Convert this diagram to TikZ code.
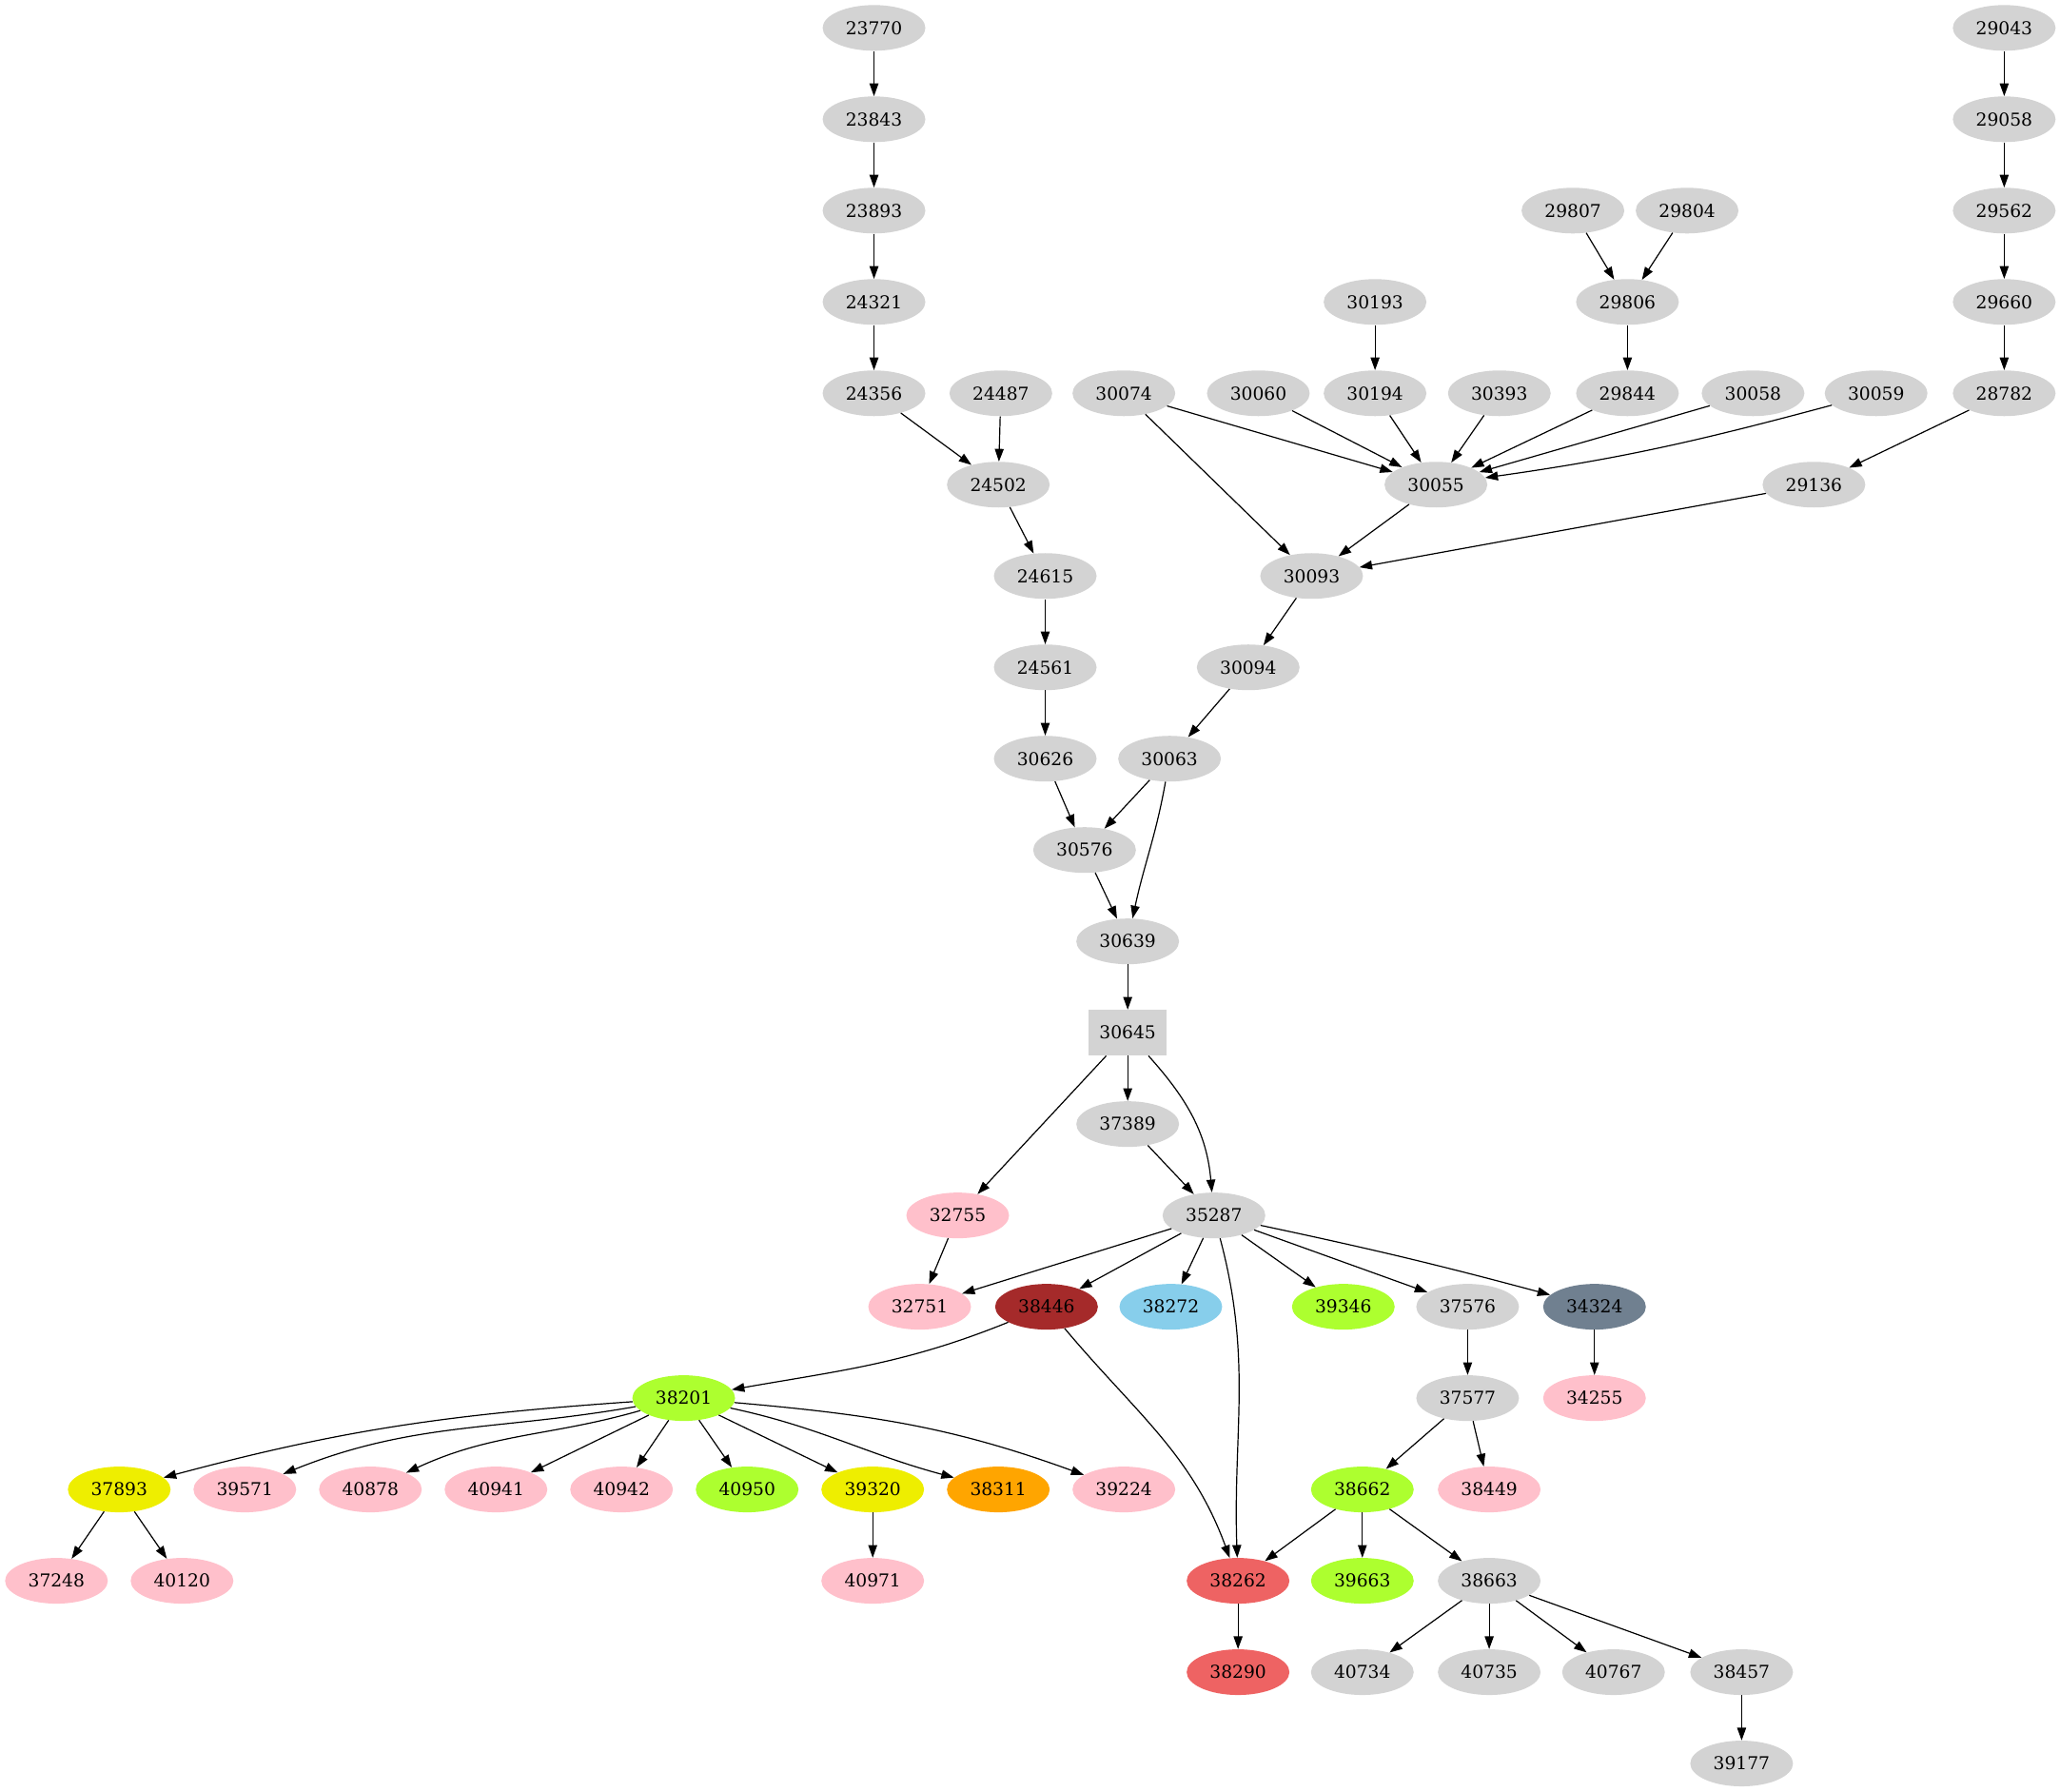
\documentclass[tikz,border=0pt]{standalone}
\usepackage{fontspec}
\setmainfont{DejaVu Serif}
\usetikzlibrary{shapes.geometric,arrows.meta}
\definecolor{lgray}{HTML}{D3D3D3}
\definecolor{pinkc}{HTML}{FFC0CB}
\definecolor{gyel}{HTML}{ADFF2F}
\definecolor{yeltwo}{HTML}{EEEE00}
\definecolor{orangec}{HTML}{FFA500}
\definecolor{brownc}{HTML}{A52A2A}
\definecolor{skyc}{HTML}{87CEEB}
\definecolor{slatec}{HTML}{708090}
\definecolor{indred}{HTML}{EE6363}
\tikzset{
  nd/.style={ellipse, minimum width=81pt, minimum height=36pt, inner sep=0pt, fill=lgray, font=\fontsize{14}{16}\selectfont},
  bx/.style={rectangle, minimum width=62pt, minimum height=36pt, inner sep=0pt, fill=lgray, font=\fontsize{14}{16}\selectfont},
  pk/.style={nd, fill=pinkc},
  gy/.style={nd, fill=gyel},
  yw/.style={nd, fill=yeltwo},
  ar/.style={-{Triangle[length=10pt,width=7pt]}, line width=0.9pt}
}
\begin{document}
\begin{tikzpicture}[x=1pt,y=1pt]
\useasboundingbox (0,0) rectangle (1624,-1412);
% row y = -(22+72k)
% k0
\node[nd] (n23770) at (689,-22) {23770};
\node[nd] (n29043) at (1580,-22) {29043};
% k1
\node[nd] (n23843) at (689,-94) {23843};
\node[nd] (n29058) at (1580,-94) {29058};
% k2
\node[nd] (n23893) at (689,-166) {23893};
\node[nd] (n29807) at (1240,-166) {29807};
\node[nd] (n29804) at (1330,-166) {29804};
\node[nd] (n29562) at (1580,-166) {29562};
% k3
\node[nd] (n24321) at (689,-238) {24321};
\node[nd] (n30193) at (1084,-238) {30193};
\node[nd] (n29806) at (1283,-238) {29806};
\node[nd] (n29660) at (1580,-238) {29660};
% k4
\node[nd] (n24356) at (689,-310) {24356};
\node[nd] (n24487) at (789,-310) {24487};
\node[nd] (n30074) at (886,-310) {30074};
\node[nd] (n30060) at (992,-310) {30060};
\node[nd] (n30194) at (1084,-310) {30194};
\node[nd] (n30393) at (1182,-310) {30393};
\node[nd] (n29844) at (1283,-310) {29844};
\node[nd] (n30058) at (1382,-310) {30058};
\node[nd] (n30059) at (1479,-310) {30059};
\node[nd] (n28782) at (1580,-310) {28782};
% k5
\node[nd] (n24502) at (787,-382) {24502};
\node[nd] (n30055) at (1132,-382) {30055};
\node[nd] (n29136) at (1430,-382) {29136};
% k6
\node[nd] (n24615) at (824,-454) {24615};
\node[nd] (n30093) at (1034,-454) {30093};
% k7
\node[nd] (n24561) at (824,-526) {24561};
\node[nd] (n30094) at (984,-526) {30094};
% k8
\node[nd] (n30626) at (824,-598) {30626};
\node[nd] (n30063) at (922,-598) {30063};
% k9
\node[nd] (n30576) at (855,-670) {30576};
% k10
\node[nd] (n30639) at (889,-742) {30639};
% k11
\node[bx] (n30645) at (889,-814) {30645};
% k12
\node[nd] (n37389) at (889,-886) {37389};
% k13
\node[pk] (n32755) at (755,-958) {32755};
\node[nd] (n35287) at (957,-958) {35287};
% k14
\node[pk] (n32751) at (725,-1030) {32751};
\node[nd, fill=brownc] (n38446) at (825,-1030) {38446};
\node[nd, fill=skyc] (n38272) at (923,-1030) {38272};
\node[gy] (n39346) at (1059,-1030) {39346};
\node[nd] (n37576) at (1157,-1030) {37576};
\node[nd, fill=slatec] (n34324) at (1257,-1030) {34324};
% k15
\node[gy] (n38201) at (539,-1102) {38201};
\node[nd] (n37577) at (1157,-1102) {37577};
\node[pk] (n34255) at (1257,-1102) {34255};
% k16
\node[yw] (n37893) at (94,-1174) {37893};
\node[pk] (n39571) at (193,-1174) {39571};
\node[pk] (n40878) at (292,-1174) {40878};
\node[pk] (n40941) at (391,-1174) {40941};
\node[pk] (n40942) at (490,-1174) {40942};
\node[gy] (n40950) at (589,-1174) {40950};
\node[yw] (n39320) at (688,-1174) {39320};
\node[nd, fill=orangec] (n38311) at (787,-1174) {38311};
\node[pk] (n39224) at (886,-1174) {39224};
\node[gy] (n38662) at (1074,-1174) {38662};
\node[pk] (n38449) at (1174,-1174) {38449};
% k17
\node[pk] (n37248) at (44.5,-1246) {37248};
\node[pk] (n40120) at (143.5,-1246) {40120};
\node[pk] (n40971) at (688,-1246) {40971};
\node[nd, fill=indred] (n38262) at (976,-1246) {38262};
\node[gy] (n39663) at (1074,-1246) {39663};
\node[nd] (n38663) at (1174,-1246) {38663};
% k18
\node[nd, fill=indred] (n38290) at (976,-1318) {38290};
\node[nd] (n40734) at (1074,-1318) {40734};
\node[nd] (n40735) at (1174,-1318) {40735};
\node[nd] (n40767) at (1272,-1318) {40767};
\node[nd] (n38457) at (1373,-1318) {38457};
% k19
\node[nd] (n39177) at (1373,-1390) {39177};

% edges
\draw[ar] (n23770) -- (n23843);
\draw[ar] (n23843) -- (n23893);
\draw[ar] (n23893) -- (n24321);
\draw[ar] (n24321) -- (n24356);
\draw[ar] (n24356) -- (n24502);
\draw[ar] (n24487) -- (n24502);
\draw[ar] (n24502) -- (n24615);
\draw[ar] (n24615) -- (n24561);
\draw[ar] (n24561) -- (n30626);
\draw[ar] (n30626) -- (n30576);
\draw[ar] (n30063) -- (n30576);
\draw[ar] (n30063) to[out=-100,in=78] (n30639);
\draw[ar] (n30576) -- (n30639);
\draw[ar] (n30639) -- (n30645);
\draw[ar] (n30645) -- (n37389);
\draw[ar] (n30645) to[out=-48,in=95] (n35287);
\draw[ar] (n30645) -- (n32755);
\draw[ar] (n37389) -- (n35287);
\draw[ar] (n32755) -- (n32751);
\draw[ar] (n35287) -- (n32751);
\draw[ar] (n35287) -- (n38446);
\draw[ar] (n35287) -- (n38272);
\draw[ar] (n35287) -- (n39346);
\draw[ar] (n35287) -- (n37576);
\draw[ar] (n35287) to[out=-12,in=165] (n34324);
\draw[ar] (n35287) to[out=-75,in=92] (n38262);
\draw[ar] (n34324) -- (n34255);
\draw[ar] (n37576) -- (n37577);
\draw[ar] (n37577) -- (n38662);
\draw[ar] (n37577) -- (n38449);
\draw[ar] (n38662) -- (n38262);
\draw[ar] (n38662) -- (n39663);
\draw[ar] (n38662) -- (n38663);
\draw[ar] (n38663) -- (n40734);
\draw[ar] (n38663) -- (n40735);
\draw[ar] (n38663) -- (n40767);
\draw[ar] (n38663) -- (n38457);
\draw[ar] (n38457) -- (n39177);
\draw[ar] (n38446) to[out=-158,in=10] (n38201);
\draw[ar] (n38446) to[out=-50,in=110] (n38262);
\draw[ar] (n38262) -- (n38290);
\draw[ar] (n38201) to[out=184,in=15] (n37893);
\draw[ar] (n38201) to[out=190,in=22] (n39571);
\draw[ar] (n38201) to[out=196,in=25] (n40878);
\draw[ar] (n38201) -- (n40941);
\draw[ar] (n38201) -- (n40942);
\draw[ar] (n38201) -- (n40950);
\draw[ar] (n38201) -- (n39320);
\draw[ar] (n38201) to[out=-12,in=165] (n38311);
\draw[ar] (n38201) to[out=-5,in=160] (n39224);
\draw[ar] (n37893) -- (n37248);
\draw[ar] (n37893) -- (n40120);
\draw[ar] (n39320) -- (n40971);
% top right
\draw[ar] (n29043) -- (n29058);
\draw[ar] (n29058) -- (n29562);
\draw[ar] (n29562) -- (n29660);
\draw[ar] (n29660) -- (n28782);
\draw[ar] (n28782) -- (n29136);
\draw[ar] (n29136) -- (n30093);
\draw[ar] (n29807) -- (n29806);
\draw[ar] (n29804) -- (n29806);
\draw[ar] (n29806) -- (n29844);
\draw[ar] (n29844) -- (n30055);
\draw[ar] (n30193) -- (n30194);
\draw[ar] (n30194) -- (n30055);
\draw[ar] (n30074) -- (n30055);
\draw[ar] (n30074) -- (n30093);
\draw[ar] (n30060) -- (n30055);
\draw[ar] (n30393) -- (n30055);
\draw[ar] (n30058) -- (n30055);
\draw[ar] (n30059) to[out=-165,in=8] (n30055);
\draw[ar] (n30055) -- (n30093);
\draw[ar] (n30093) -- (n30094);
\draw[ar] (n30094) -- (n30063);
\end{tikzpicture}
\end{document}
